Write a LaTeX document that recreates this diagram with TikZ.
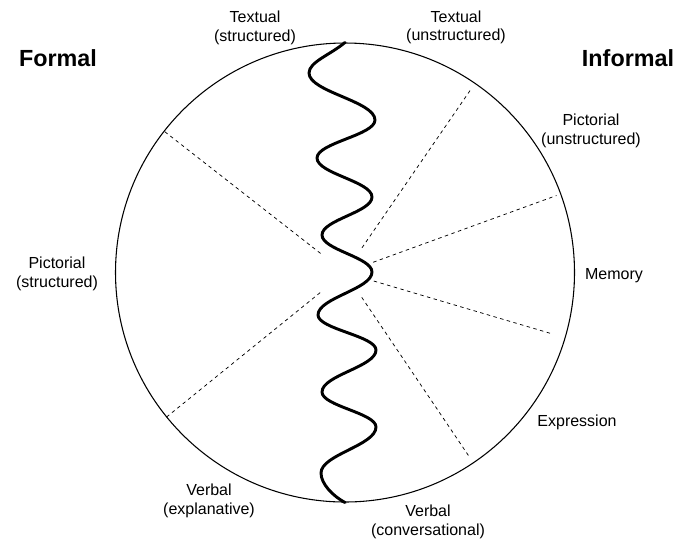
\documentclass[tikz,border=0pt]{standalone}
\usepackage{fontspec}
\setmainfont{Liberation Sans}
\usetikzlibrary{calc}
\begin{document}
\begin{tikzpicture}[x=0.75pt,y=-0.75pt,
  lbl/.style={inner sep=0pt, align=center, font=\fontsize{12}{13.8}\selectfont},
  side/.style={inner sep=0pt, font=\fontsize{17.5}{20}\selectfont\bfseries},
  rim/.style={draw, circle, line width=0.8pt, inner sep=0pt, minimum size=344.25pt},
  spoke/.style={draw, dash pattern=on 2.6pt off 2.6pt, line width=0.55pt},
  wave/.style={draw, line width=2.2pt, line cap=round, line join=round}]
\useasboundingbox (0,0) rectangle (680,540);

% outer circle and its centre
\node[rim] (disc) at (345,272.5) {};
\coordinate (o) at (345,272.5);

% dashed radial dividers (screen angles, inner and outer radius)
\foreach \a/\ri/\ro in {-142/31/230, 141/32/230, -55.5/30/224, -20/30/225, 16.5/30/217, 56/30/224}
  \draw[spoke] ($(o)+(\a:\ri)$) -- ($(o)+(\a:\ro)$);

% wavy boundary from top to bottom of the circle
\draw[wave] (disc.north) .. controls (330,55) and (309,62) .. (309,73)
  .. controls (309,91.8) and (375,101.2) .. (375,120)
  .. controls (375,135.2) and (317,142.8) .. (317,158)
  .. controls (317,173.6) and (372,181.4) .. (372,197)
  .. controls (372,212.2) and (322,219.8) .. (322,235)
  .. controls (322,249.8) and (372,257.2) .. (372,272)
  .. controls (372,289.2) and (318,297.8) .. (318,315)
  .. controls (318,329) and (376,336) .. (376,350)
  .. controls (376,366.8) and (322,375.2) .. (322,392)
  .. controls (322,406) and (376,413) .. (376,427)
  .. controls (376,445.4) and (321,454.6) .. (321,473)
  .. controls (321,484) and (333,496) .. (disc.south);

% headings
\node[side] (formal) at (58,58.5) {Formal};
\node[side] (informal) at (628,58.5) {Informal};

% segment labels
\node[lbl] (txts) at (255,28) {Textual\\(structured)};
\node[lbl] (txtu) at (456,27.5) {Textual\\(unstructured)};
\node[lbl] (picu) at (591,131) {Pictorial\\(unstructured)};
\node[lbl] (mem) at (614,275.5) {Memory};
\node[lbl] (expr) at (577,422.5) {Expression};
\node[lbl] (verbc) at (428,522) {Verbal\\(conversational)};
\node[lbl] (verbe) at (209,501) {Verbal\\(explanative)};
\node[lbl] (pics) at (57,274) {Pictorial\\(structured)};
\end{tikzpicture}
\end{document}
